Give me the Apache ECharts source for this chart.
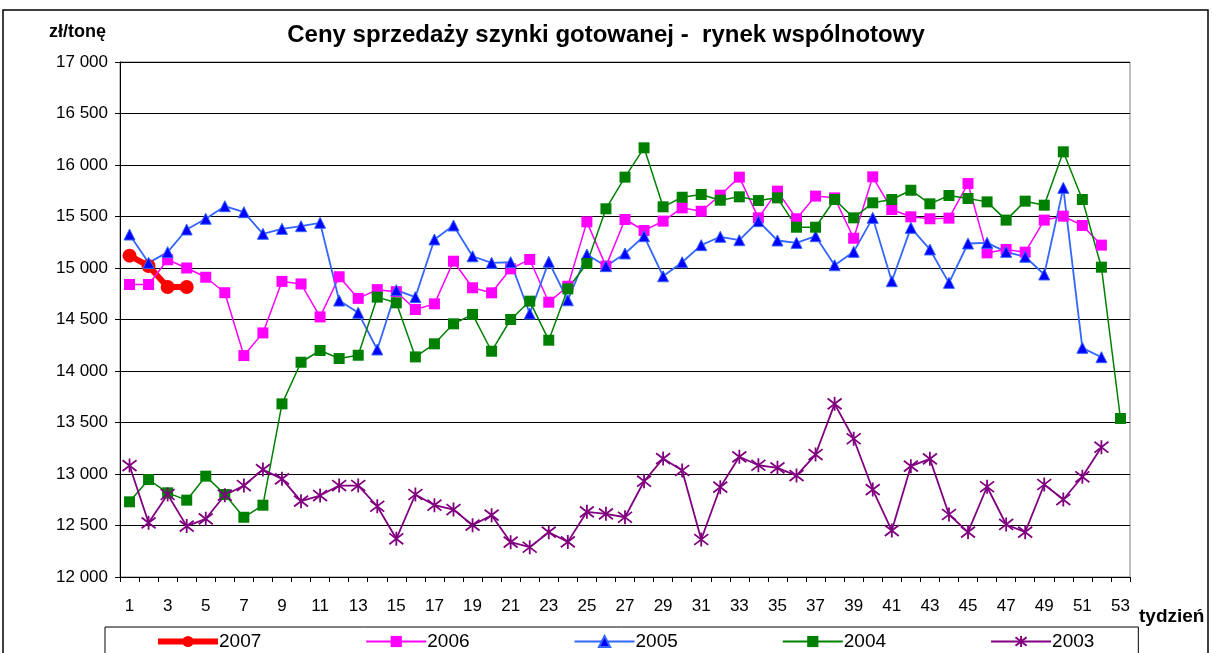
<!DOCTYPE html>
<html>
<head>
<meta charset="utf-8">
<script src="https://cdn.jsdelivr.net/npm/echarts@6/dist/echarts.min.js"></script>
<style>
  html, body { margin: 0; padding: 0; background: #fff; }
  #chart { width: 1212px; height: 653px; }
</style>
</head>
<body>
<div id="chart"></div>
<script>
// tygodnie 1..53
const weeks = [];
for (let i = 1; i <= 53; i++) weeks.push(String(i));

// ceny zł/tonę
const y2007 = [15120, 15020, 14815, 14815];
const y2006 = [14840, 14840, 15080, 15000, 14910, 14760, 14150, 14370, 14870, 14845,
  14525, 14915, 14705, 14790, 14770, 14597, 14652, 15066, 14808, 14759,
  14992, 15083, 14668, 14823, 15448, 15018, 15471, 15364, 15455, 15584,
  15551, 15707, 15882, 15487, 15746, 15478, 15698, 15681, 15289, 15885,
  15568, 15497, 15478, 15484, 15820, 15147, 15180, 15154, 15465, 15503,
  15413, 15222];
const y2005 = [15325, 15050, 15154, 15374, 15478, 15600, 15542, 15332, 15380, 15406,
  15439, 14684, 14565, 14209, 14785, 14717, 15277, 15413, 15114, 15050,
  15056, 14558, 15060, 14687, 15131, 15018, 15141, 15309, 14920, 15056,
  15222, 15303, 15270, 15455, 15267, 15244, 15309, 15027, 15157, 15487,
  14872, 15390, 15180, 14856, 15238, 15244, 15157, 15109, 14937, 15778,
  14225, 14134];
const y2004 = [12730, 12946, 12817, 12746, 12979, 12801, 12580, 12697, 13681, 14085,
  14199, 14121, 14153, 14717, 14662, 14137, 14264, 14458, 14549, 14192,
  14500, 14678, 14299, 14798, 15044, 15575, 15882, 16167, 15594, 15687,
  15714, 15658, 15691, 15655, 15681, 15396, 15396, 15665, 15487, 15633,
  15665, 15755, 15623, 15704, 15675, 15642, 15465, 15649, 15610, 16128,
  15665, 15008, 13539];
const y2003 = [13082, 12526, 12801, 12494, 12565, 12794, 12888, 13043, 12953, 12736,
  12791, 12888, 12888, 12687, 12371, 12801, 12697, 12655, 12503, 12600,
  12338, 12289, 12435, 12341, 12633, 12613, 12580, 12930, 13150, 13034,
  12364, 12872, 13167, 13085, 13060, 12985, 13189, 13681, 13342, 12849,
  12451, 13076, 13147, 12607, 12435, 12876, 12510, 12435, 12898, 12752,
  12973, 13260];

const FONT = 'Liberation Sans';
const asterisk = 'path://M0,0L10,10M10,0L0,10M5,-1.5L5,11.5';

let myChart = echarts.init(document.getElementById('chart'));

let option = {
  animation: false,
  textStyle: { fontFamily: FONT },
  title: [
    {
      text: 'Ceny sprzedaży szynki gotowanej -  rynek wspólnotowy',
      left: 'center',
      top: 18,
      textStyle: { fontFamily: FONT, fontSize: 24, fontWeight: 'bold', color: '#000' }
    },
    {
      text: 'zł/tonę',
      left: 44,
      top: 18,
      textStyle: { fontFamily: FONT, fontSize: 18, fontWeight: 'bold', color: '#000' }
    },
    {
      text: 'tydzień',
      left: 1134,
      top: 602,
      textStyle: { fontFamily: FONT, fontSize: 19, fontWeight: 'bold', color: '#000' }
    }
  ],
  graphic: [
    {
      type: 'rect',
      shape: { x: 3, y: 10, width: 1205, height: 660 },
      style: { fill: 'none', stroke: '#000', lineWidth: 1.5 },
      silent: true
    }
  ],
  legend: {
    left: 105,
    top: 627,
    padding: [5, 44, 8, 50],
    itemGap: 104,
    itemWidth: 60,
    itemHeight: 14,
    borderColor: '#000',
    borderWidth: 1,
    textStyle: { fontFamily: FONT, fontSize: 19, color: '#000', padding: [0, 0, 0, -4] },
    data: [
      { name: '2007', lineStyle: { width: 6 } },
      '2006', '2005', '2004', '2003'
    ]
  },
  grid: {
    left: 120,
    right: 82,
    top: 62,
    bottom: 76,
    show: true,
    borderColor: '#808080',
    borderWidth: 1
  },
  xAxis: {
    type: 'category',
    data: weeks,
    boundaryGap: true,
    axisLine: { lineStyle: { color: '#000', width: 1 } },
    axisTick: { show: true, interval: 0, length: 5, lineStyle: { color: '#000' } },
    axisLabel: { interval: 1, margin: 21, fontSize: 17, color: '#000', fontFamily: FONT },
    splitLine: { show: false }
  },
  yAxis: {
    type: 'value',
    min: 12000,
    max: 17000,
    interval: 500,
    axisLine: { show: true, lineStyle: { color: '#000', width: 1 } },
    axisTick: { show: true, length: 5, lineStyle: { color: '#000' } },
    axisLabel: {
      margin: 12,
      fontSize: 17,
      color: '#000',
      fontFamily: FONT,
      formatter: v => String(v).replace(/\B(?=(\d{3})+(?!\d))/g, ' ')
    },
    splitLine: { lineStyle: { color: '#000', width: 1 } }
  },
  series: [
    {
      name: '2007',
      type: 'line',
      data: y2007,
      showAllSymbol: true,
      symbol: 'circle',
      symbolSize: 14,
      lineStyle: { color: '#ff0000', width: 6 },
      itemStyle: { color: '#ff0000' }
    },
    {
      name: '2006',
      type: 'line',
      data: y2006,
      showAllSymbol: true,
      symbol: 'rect',
      symbolSize: 11,
      lineStyle: { color: '#ff00ff', width: 1.5 },
      itemStyle: { color: '#ff00ff' }
    },
    {
      name: '2005',
      type: 'line',
      data: y2005,
      showAllSymbol: true,
      symbol: 'triangle',
      symbolSize: 11,
      lineStyle: { color: '#3366ff', width: 1.8 },
      itemStyle: { color: '#0000ff', borderColor: '#3366ff', borderWidth: 1 }
    },
    {
      name: '2004',
      type: 'line',
      data: y2004,
      showAllSymbol: true,
      symbol: 'rect',
      symbolSize: 11,
      lineStyle: { color: '#008000', width: 1.5 },
      itemStyle: { color: '#008000' }
    },
    {
      name: '2003',
      type: 'line',
      data: y2003,
      showAllSymbol: true,
      symbol: asterisk,
      symbolSize: 14,
      lineStyle: { color: '#800080', width: 1.8 },
      itemStyle: { color: 'rgba(0,0,0,0)', borderColor: '#800080', borderWidth: 1.8 }
    }
  ]
};

myChart.setOption(option);
</script>
</body>
</html>
